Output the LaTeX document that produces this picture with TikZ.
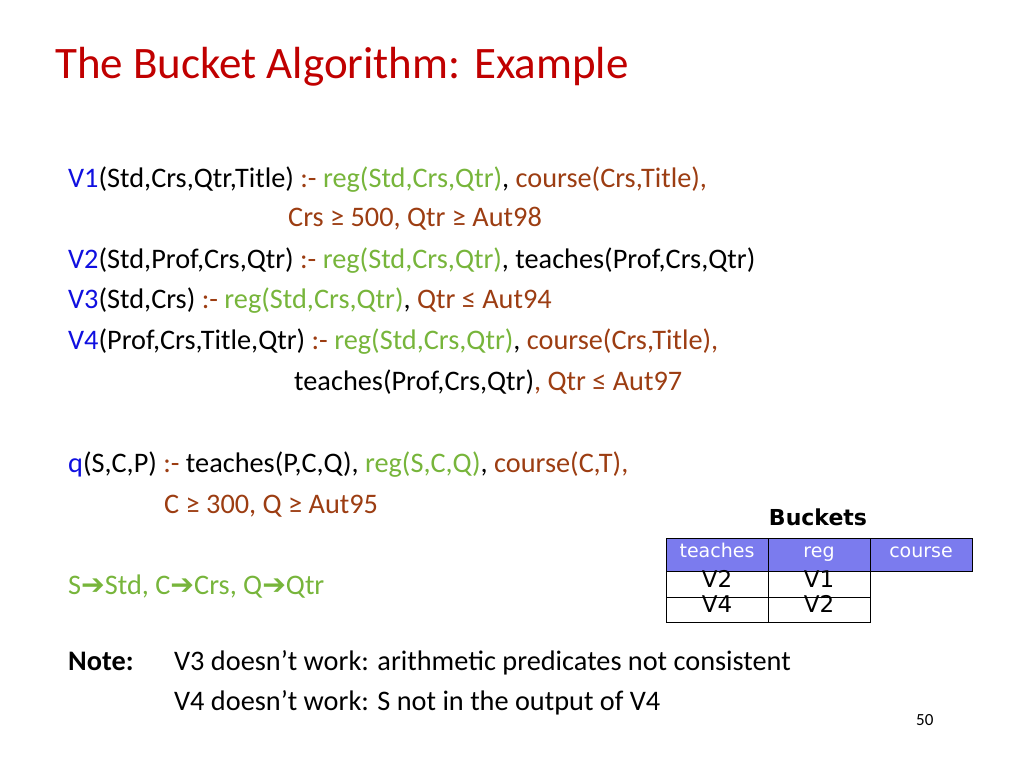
\documentclass[tikz,border=0pt]{standalone}
\usepackage{fontspec}
\setmainfont{Carlito}
\newfontfamily\dv{DejaVu Sans}
\definecolor{ttl}{HTML}{C00000}
\definecolor{vb}{HTML}{1010E0}
\definecolor{gr}{HTML}{77B53B}
\definecolor{br}{HTML}{9C3D12}
\definecolor{hd}{HTML}{7B7BEE}
\newcommand{\B}[1]{\textcolor{vb}{#1}}
\newcommand{\G}[1]{\textcolor{gr}{#1}}
\newcommand{\R}[1]{\textcolor{br}{#1}}
\newcommand{\arr}{{\dv\char"2794}}
\begin{document}
\begin{tikzpicture}[x=1pt,y=-1pt,
  ln/.style={anchor=base west,inner sep=0pt,font=\fontsize{28.3}{32}\selectfont},
  cell/.style={draw=black,line width=0.8pt,minimum width=102pt,inner sep=0pt,text height=0.75em,text depth=0.1em},
  hcell/.style={cell,fill=hd,text=white,minimum height=33pt,font=\dv\fontsize{19}{20}\selectfont},
  bcell/.style={cell,font=\dv\fontsize{23}{24}\selectfont}]
\useasboundingbox (0,0) rectangle (1024,768);
\node[ln,font=\fontsize{45}{50}\selectfont,text=ttl] (title) at (55,78) {The Bucket Algorithm: Example};
\node[ln] (l1) at (68,187) {\B{V1}(Std,Crs,Qtr,Title) \R{:-} \G{reg(Std,Crs,Qtr)}, \R{course(Crs,Title),}};
\node[ln] (l2) at (288,226) {\R{Crs ≥ 500, Qtr ≥ Aut98}};
\node[ln] (l3) at (68,268) {\B{V2}(Std,Prof,Crs,Qtr) \R{:-} \G{reg(Std,Crs,Qtr)}, teaches(Prof,Crs,Qtr)};
\node[ln] (l4) at (68,308) {\B{V3}(Std,Crs) \R{:-} \G{reg(Std,Crs,Qtr)}, \R{Qtr ≤ Aut94}};
\node[ln] (l5) at (68,349) {\B{V4}(Prof,Crs,Title,Qtr) \R{:-} \G{reg(Std,Crs,Qtr)}, \R{course(Crs,Title),}};
\node[ln] (l6) at (294,390) {teaches(Prof,Crs,Qtr)\R{, Qtr ≤ Aut97}};
\node[ln] (l7) at (68,472) {\B{q}(S,C,P) \R{:-} teaches(P,C,Q), \G{reg(S,C,Q)}, \R{course(C,T),}};
\node[ln] (l8) at (164,513) {\R{C ≥ 300, Q ≥ Aut95}};
\node[ln] (l9) at (68,594) {\G{S\arr Std, C\arr Crs, Q\arr Qtr}};
\node[ln] (n1) at (68,670) {\textbf{Note:}};
\node[ln] (n2) at (174,670) {V3 doesn’t work: arithmetic predicates not consistent};
\node[ln] (n3) at (174,710) {V4 doesn’t work: S not in the output of V4};
\node[ln,font=\fontsize{17}{20}\selectfont] (pg) at (916,725) {50};
\node[anchor=base,inner sep=0pt,font=\dv\bfseries\fontsize{22}{24}\selectfont] (bk) at (818,525) {Buckets};
\node[hcell] (h1) at (717,554.5) {teaches};
\node[hcell] (h2) at (819,554.5) {reg};
\node[hcell] (h3) at (921,554.5) {course};
\node[bcell,minimum height=26pt] (a1) at (717,584) {V2};
\node[bcell,minimum height=26pt] (a2) at (819,584) {V1};
\node[bcell,minimum height=25pt] (b1) at (717,609.5) {V4};
\node[bcell,minimum height=25pt] (b2) at (819,609.5) {V2};
\end{tikzpicture}
\end{document}
